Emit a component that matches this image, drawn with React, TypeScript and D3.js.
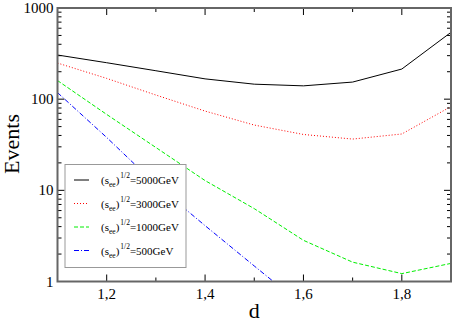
import { useEffect, useRef } from 'react';
import * as d3 from 'd3';

const dValues = [1.1, 1.2, 1.3, 1.4, 1.5, 1.6, 1.7, 1.8, 1.9];
const ev5000 = [305, 251, 205, 167, 146, 140, 154, 214, 541];
const ev3000 = [249, 169, 111, 74, 52, 41, 36.5, 41.5, 83];
const ev1000 = [160, 68, 29.5, 12.8, 6.3, 2.83, 1.63, 1.22, 1.58];
const ev500 = [118, 38, 11.6, 4.1, 1.48, 0.54];
const seriesLabels = ['5000GeV', '3000GeV', '1000GeV', '500GeV'];
const xTicks = [1.2, 1.4, 1.6, 1.8];
const yTicks = [1, 10, 100, 1000];

const series = [
  { label: seriesLabels[0], values: ev5000, color: '#000000', dash: null },
  { label: seriesLabels[1], values: ev3000, color: '#ff0000', dash: '1,2' },
  { label: seriesLabels[2], values: ev1000, color: '#00ee00', dash: '4,2' },
  { label: seriesLabels[3], values: ev500, color: '#0000ff', dash: '5,2,1,2' },
];

export default function App() {
  const svgRef = useRef<SVGSVGElement>(null);

  useEffect(() => {
    if (!svgRef.current) return;
    const svg = d3.select(svgRef.current);
    svg.selectAll('*').remove();

    const margin = { top: 8, right: 2, bottom: 40.5, left: 57.5 };
    const width = 453;
    const height = 322;
    const w = width - margin.left - margin.right;
    const h = height - margin.top - margin.bottom;
    const font = "'Liberation Serif', 'Times New Roman', serif";

    const x = d3.scaleLinear().domain([1.1, 1.9]).range([0, w]);
    const y = d3.scaleLog().domain([1, 1000]).range([h, 0]);

    svg.append('defs').append('clipPath').attr('id', 'plotclip')
      .append('rect').attr('width', w).attr('height', h);

    const g = svg.append('g').attr('transform', `translate(${margin.left},${margin.top})`);

    // Lines
    const line = d3.line<number>()
      .x((_, i) => x(dValues[i]))
      .y((v) => y(v));

    const lines = g.append('g').attr('clip-path', 'url(#plotclip)');
    series.forEach((s) => {
      lines.append('path')
        .attr('d', line(s.values))
        .attr('fill', 'none')
        .attr('stroke', s.color)
        .attr('stroke-width', 1)
        .attr('stroke-dasharray', s.dash);
    });

    // Ticks (inward, both sides)
    const tickG = g.append('g').attr('stroke', '#000').attr('stroke-width', 1);
    const xMinor = [1.3, 1.5, 1.7];
    xTicks.forEach((t) => {
      tickG.append('line').attr('x1', x(t)).attr('x2', x(t)).attr('y1', h).attr('y2', h - 7);
      tickG.append('line').attr('x1', x(t)).attr('x2', x(t)).attr('y1', 0).attr('y2', 7);
    });
    xMinor.forEach((t) => {
      tickG.append('line').attr('x1', x(t)).attr('x2', x(t)).attr('y1', h).attr('y2', h - 4);
      tickG.append('line').attr('x1', x(t)).attr('x2', x(t)).attr('y1', 0).attr('y2', 4);
    });
    yTicks.forEach((t) => {
      tickG.append('line').attr('x1', 0).attr('x2', 7).attr('y1', y(t)).attr('y2', y(t));
      tickG.append('line').attr('x1', w).attr('x2', w - 7).attr('y1', y(t)).attr('y2', y(t));
    });
    [1, 10, 100].forEach((dec) => {
      d3.range(2, 10).forEach((m) => {
        const v = dec * m;
        tickG.append('line').attr('x1', 0).attr('x2', 4).attr('y1', y(v)).attr('y2', y(v));
        tickG.append('line').attr('x1', w).attr('x2', w - 4).attr('y1', y(v)).attr('y2', y(v));
      });
    });

    // Frame
    g.append('rect')
      .attr('width', w).attr('height', h)
      .attr('fill', 'none').attr('stroke', '#666').attr('stroke-width', 2);

    // Tick labels
    xTicks.forEach((t) => {
      g.append('text')
        .attr('x', x(t)).attr('y', h + 17)
        .attr('text-anchor', 'middle')
        .attr('font-family', font).attr('font-size', '15px')
        .text(d3.format('.1f')(t).replace('.', ','));
    });
    yTicks.forEach((t) => {
      g.append('text')
        .attr('x', -4).attr('y', y(t) + 5)
        .attr('text-anchor', 'end')
        .attr('font-family', font).attr('font-size', '15px')
        .text(String(t));
    });

    // Axis labels
    g.append('text')
      .attr('x', w / 2).attr('y', h + 36)
      .attr('text-anchor', 'middle')
      .attr('font-family', font).attr('font-size', '22px')
      .text('d');
    svg.append('text')
      .attr('transform', `translate(19,144) rotate(-90)`)
      .attr('text-anchor', 'middle')
      .attr('font-family', font).attr('font-size', '22px')
      .text('Events');

    // Legend
    const lg = svg.append('g');
    lg.append('rect')
      .attr('x', 65).attr('y', 164.5).attr('width', 121).attr('height', 103)
      .attr('fill', '#fff').attr('stroke', '#999').attr('stroke-width', 1);
    series.forEach((s, i) => {
      const yy = 180 + i * 23.5;
      lg.append('line')
        .attr('x1', 74).attr('x2', 89).attr('y1', yy).attr('y2', yy)
        .attr('stroke', s.color).attr('stroke-width', 1)
        .attr('stroke-dasharray', s.dash);
      const t = lg.append('text')
        .attr('x', 101).attr('y', yy + 4)
        .attr('font-family', font).attr('font-size', '11px');
      t.append('tspan').text('(s');
      t.append('tspan').attr('font-size', '7.5px').attr('dy', 3).text('ee');
      t.append('tspan').attr('dy', -3).text(')');
      t.append('tspan').attr('font-size', '7.5px').attr('dy', -6).attr('dx', 1).text('1/2');
      t.append('tspan').attr('dy', 6).text('=' + s.label);
    });
  }, []);

  return (
    <svg
      ref={svgRef}
      width={453}
      height={322}
      style={{ position: 'absolute', left: 0, top: 0, display: 'block' }}
    />
  );
}
